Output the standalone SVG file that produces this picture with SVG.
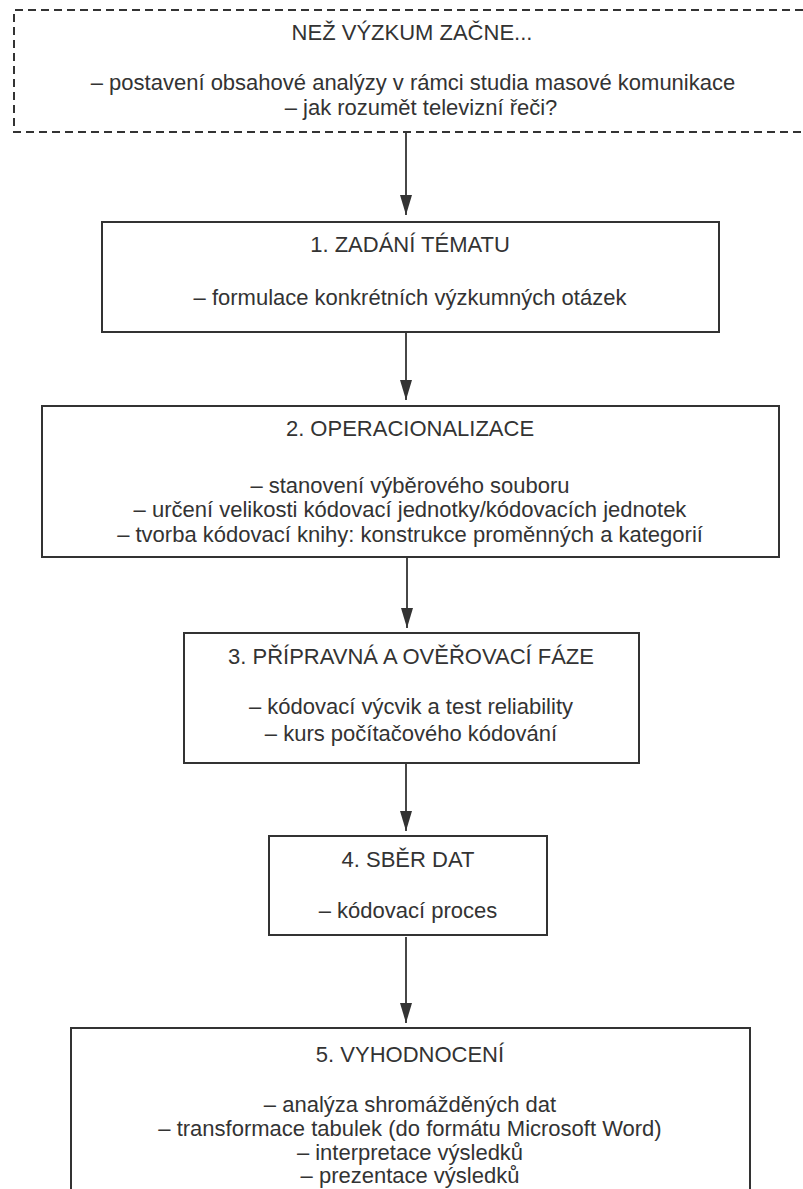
<svg xmlns="http://www.w3.org/2000/svg" width="803" height="1189" viewBox="0 0 803 1189">
<style>
text{font-family:"Liberation Sans",Arial,sans-serif;font-size:22px;fill:#333;text-anchor:middle}
.box{fill:none;stroke:#333;stroke-width:2}
.dash{fill:none;stroke:#333;stroke-width:2;stroke-dasharray:8 5}
.conn{stroke:#333;stroke-width:1.8;fill:none}
</style>
<defs>
<marker id="arr" markerWidth="20" markerHeight="12" refX="20" refY="6" orient="auto" markerUnits="userSpaceOnUse" viewBox="0 0 20 12">
<path d="M0,0 L20,6 L0,12 Z" fill="#333"/>
</marker>
</defs>
<rect width="803" height="1189" fill="#fff"/>
<g id="n0">
<path class="dash" d="M803,10 H14 V132 H803"/>
<text x="412" y="40">NEŽ VÝZKUM ZAČNE...</text>
<text x="413" y="90">– postavení obsahové analýzy v rámci studia masové komunikace</text>
<text x="421" y="115">– jak rozumět televizní řeči?</text>
</g>
<g id="n1">
<rect class="box" x="102" y="222" width="617" height="110"/>
<text x="410" y="252">1. ZADÁNÍ TÉMATU</text>
<text x="410" y="305">– formulace konkrétních výzkumných otázek</text>
</g>
<g id="n2">
<rect class="box" x="42" y="406" width="737" height="151"/>
<text x="410" y="436">2. OPERACIONALIZACE</text>
<text x="410" y="493">– stanovení výběrového souboru</text>
<text x="410" y="517">– určení velikosti kódovací jednotky/kódovacích jednotek</text>
<text x="410" y="542">– tvorba kódovací knihy: konstrukce proměnných a kategorií</text>
</g>
<g id="n3">
<rect class="box" x="184" y="633" width="455" height="130"/>
<text x="411" y="664">3. PŘÍPRAVNÁ A OVĚŘOVACÍ FÁZE</text>
<text x="411" y="714">– kódovací výcvik a test reliability</text>
<text x="411" y="741">– kurs počítačového kódování</text>
</g>
<g id="n4">
<rect class="box" x="269" y="836" width="278" height="99"/>
<text x="408" y="867">4. SBĚR DAT</text>
<text x="408" y="918">– kódovací proces</text>
</g>
<g id="n5">
<rect class="box" x="71" y="1028" width="679" height="200"/>
<text x="410" y="1062">5. VYHODNOCENÍ</text>
<text x="410" y="1112">– analýza shromážděných dat</text>
<text x="410" y="1136">– transformace tabulek (do formátu Microsoft Word)</text>
<text x="410" y="1160">– interpretace výsledků</text>
<text x="410" y="1183">– prezentace výsledků</text>
</g>
<g id="connectors">
<line class="conn" x1="406" y1="132" x2="406" y2="215" marker-end="url(#arr)"/>
<line class="conn" x1="406" y1="332" x2="406" y2="400" marker-end="url(#arr)"/>
<line class="conn" x1="407" y1="557" x2="407" y2="628" marker-end="url(#arr)"/>
<line class="conn" x1="406" y1="763" x2="406" y2="831" marker-end="url(#arr)"/>
<line class="conn" x1="406" y1="937" x2="406" y2="1023" marker-end="url(#arr)"/>
</g>
</svg>
